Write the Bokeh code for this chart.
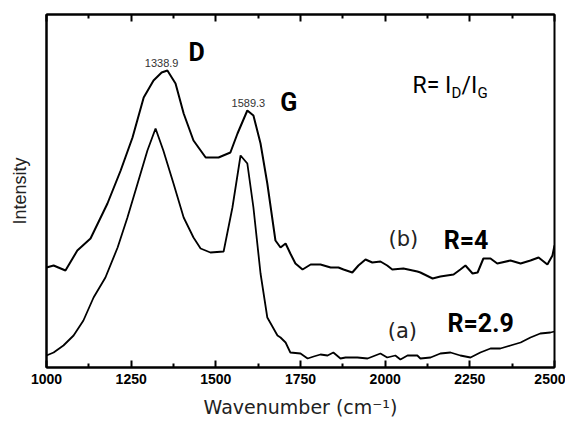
from bokeh.plotting import figure
from bokeh.models import Range1d, FixedTicker, LinearAxis, Label, CustomJSTickFormatter
from bokeh.embed import file_html
from bokeh.resources import INLINE

# ---- data ----
wave_b = [1000, 1021, 1056, 1091, 1130, 1180, 1219, 1254, 1287, 1316, 1340, 1357, 1381, 1405,
          1434, 1470, 1508, 1543, 1564, 1593, 1611, 1632, 1652, 1676, 1691, 1706, 1720, 1735,
          1756, 1780, 1809, 1839, 1862, 1877, 1903, 1921, 1942, 1962, 1986, 2006, 2021, 2054,
          2095, 2104, 2140, 2163, 2202, 2222, 2237, 2258, 2273, 2290, 2311, 2331, 2370, 2400,
          2429, 2453, 2479, 2494, 2500]
int_b = [100, 102, 97, 117, 129, 164, 197, 230, 270, 287, 295, 297, 284, 254,
         227, 210, 210, 215, 234, 257, 252, 224, 184, 127, 120, 124, 114, 104,
         98, 103, 103, 100, 100, 98, 95, 102, 108, 105, 106, 102, 98, 99,
         96, 95, 89, 91, 93, 98, 102, 94, 95, 109, 109, 104, 107, 104,
         107, 110, 103, 112, 122]

wave_a = [1000, 1021, 1050, 1080, 1109, 1139, 1174, 1210, 1239, 1269, 1298, 1322, 1345, 1375,
          1405, 1434, 1455, 1484, 1523, 1549, 1573, 1593, 1611, 1632, 1652, 1682, 1691, 1706,
          1720, 1750, 1771, 1789, 1809, 1830, 1847, 1868, 1883, 1918, 1948, 1986, 2006, 2030,
          2045, 2066, 2095, 2104, 2134, 2163, 2193, 2222, 2252, 2281, 2311, 2340, 2370, 2400,
          2429, 2458, 2488, 2500]
int_a = [12, 15, 22, 32, 47, 70, 90, 120, 150, 184, 217, 239, 217, 184,
         150, 130, 119, 115, 116, 160, 212, 204, 160, 94, 50, 32, 30, 25,
         15, 14, 9, 11, 13, 12, 15, 9, 10, 10, 9, 14, 10, 12,
         8, 12, 12, 9, 10, 14, 15, 12, 10, 15, 19, 19, 22, 25,
         30, 34, 35, 36]

x_major = [1000, 1250, 1500, 1750, 2000, 2250, 2500]
x_minor = [1125, 1375, 1625, 1875, 2125, 2375]

BOLD = "Roboto"

p = figure(width=565, height=420, output_backend="svg", toolbar_location=None,
           x_range=Range1d(1000, 2500), y_range=Range1d(0, 353),
           min_border_left=46, min_border_top=14, min_border_right=11, min_border_bottom=53)
p.grid.visible = False
p.background_fill_color = "white"
p.border_fill_color = "white"
p.outline_line_color = "black"
p.outline_line_width = 2

# bottom axis
xa = p.xaxis[0]
xa.ticker = FixedTicker(ticks=x_major, minor_ticks=x_minor)
xa.major_tick_in = 7
xa.major_tick_out = 0
xa.minor_tick_in = 4
xa.minor_tick_out = 0
xa.major_tick_line_width = 2
xa.minor_tick_line_width = 2
xa.axis_line_width = 2
xa.major_label_text_font = "Liberation Sans"
xa.major_label_text_font_style = "bold"
xa.major_label_text_font_size = "14px"
xa.major_label_text_color = "black"
xa.major_label_standoff = 6
xa.axis_label = "Wavenumber (cm\u207b\u00b9)"
xa.axis_label_text_font = "DejaVu Sans"
xa.axis_label_text_font_style = "normal"
xa.axis_label_text_font_size = "19px"
xa.axis_label_text_color = "#222222"
xa.axis_label_standoff = 9

# top axis: ticks only
ta = LinearAxis(ticker=FixedTicker(ticks=x_major, minor_ticks=x_minor),
                formatter=CustomJSTickFormatter(code="return ''"))
ta.major_tick_in = 7
ta.major_tick_out = 0
ta.minor_tick_in = 4
ta.minor_tick_out = 0
ta.major_tick_line_width = 2
ta.minor_tick_line_width = 2
ta.axis_line_width = 2
ta.major_label_text_font_size = "0px"
ta.major_label_standoff = 0
p.add_layout(ta, "above")

# left axis: title only
ya = p.yaxis[0]
ya.ticker = FixedTicker(ticks=[])
ya.axis_line_width = 2
ya.major_label_text_font_size = "0px"
ya.axis_label = "Intensity"
ya.axis_label_text_font = "Liberation Sans"
ya.axis_label_text_font_style = "normal"
ya.axis_label_text_font_size = "18px"
ya.axis_label_text_color = "#222222"
ya.axis_label_standoff = 17

# spectra
p.line(wave_b, int_b, line_color="black", line_width=2)
p.line(wave_a, int_a, line_color="black", line_width=1.8)

def lab(x, y, text, size, font="Liberation Sans", style="normal", align="center",
        color="black", baseline="middle", dx=0):
    p.add_layout(Label(x=x, y=y, text=text, text_font=font, text_font_style=style,
                       text_font_size=size, text_align=align, text_baseline=baseline,
                       text_color=color, x_offset=dx))

lab(1340, 305, "1338.9", "11px", color="#333333")
lab(1443, 315, "D", "25px", font=BOLD, style="bold")
lab(1596, 265, "1589.3", "11px", color="#333333")
lab(1715, 265, "G", "25px", font=BOLD, style="bold")

# R = I_D / I_G
lab(2081, 282, "R= I", "23px", font=BOLD, align="left", baseline="alphabetic")
lab(2081, 275, "D", "15px", font=BOLD, align="left", baseline="alphabetic", dx=39)
lab(2081, 282, "/I", "23px", font=BOLD, align="left", baseline="alphabetic", dx=49)
lab(2081, 275, "G", "15px", font=BOLD, align="left", baseline="alphabetic", dx=65)

lab(2054, 129, "(b)", "21px", font="DejaVu Sans", color="#222222")
lab(2173, 127, "R=4", "25px", font=BOLD, style="bold", align="left")
lab(2051, 37, "(a)", "21px", font="DejaVu Sans", color="#222222")
lab(2184, 44, "R=2.9", "25px", font=BOLD, style="bold", align="left")

open("out.html", "w").write(file_html(p, INLINE))
